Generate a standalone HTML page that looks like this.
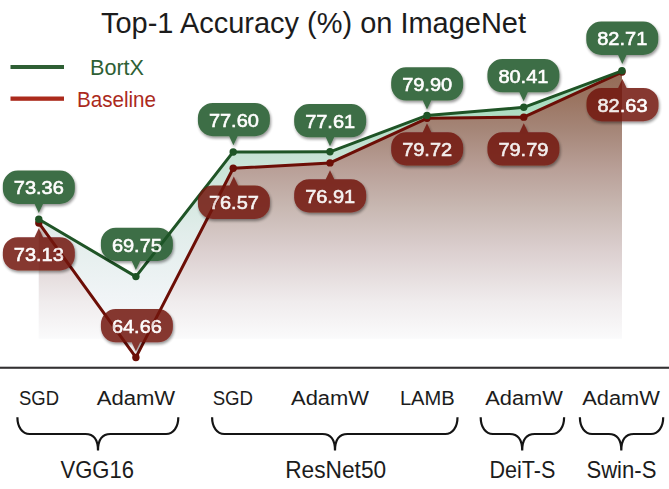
<!DOCTYPE html><html><head><meta charset="utf-8"><style>
html,body{margin:0;padding:0;background:#fff;}body{width:669px;height:489px;overflow:hidden;}
svg{display:block;font-family:"Liberation Sans",sans-serif;}
</style></head><body>
<svg width="669" height="489" viewBox="0 0 669 489">
<defs>
<linearGradient id="gg" gradientUnits="userSpaceOnUse" x1="0" y1="71" x2="0" y2="338"><stop offset="0.000" stop-color="#a0dab9"/><stop offset="0.161" stop-color="#afdec3"/><stop offset="0.315" stop-color="#c6e2d4"/><stop offset="0.614" stop-color="#e2edeb"/><stop offset="0.839" stop-color="#f0f4f6"/><stop offset="1.000" stop-color="#f9fafc"/></linearGradient>
<linearGradient id="rg" gradientUnits="userSpaceOnUse" x1="0" y1="72" x2="0" y2="338"><stop offset="0.000" stop-color="#946a56"/><stop offset="0.105" stop-color="#9b7562"/><stop offset="0.218" stop-color="#a58678"/><stop offset="0.368" stop-color="#b9a098"/><stop offset="0.511" stop-color="#c8b8b2"/><stop offset="0.677" stop-color="#dcd0d0"/><stop offset="0.865" stop-color="#f0eced"/><stop offset="1.000" stop-color="#fafafb"/></linearGradient>
<filter id="sh" x="-20%" y="-20%" width="140%" height="160%"><feGaussianBlur in="SourceAlpha" stdDeviation="1.5"/><feOffset dx="0.5" dy="2" result="o"/><feComponentTransfer><feFuncA type="linear" slope="0.5"/></feComponentTransfer><feMerge><feMergeNode/><feMergeNode in="SourceGraphic"/></feMerge></filter>
</defs>
<text x="101" y="33" font-size="29" fill="#1c1c1c" textLength="425" lengthAdjust="spacingAndGlyphs">Top-1 Accuracy (%) on ImageNet</text>
<rect x="10.5" y="65" width="53.5" height="4" fill="#2e5f34"/>
<rect x="10.5" y="96.5" width="53.5" height="4.3" fill="#ab2a1c"/>
<text x="90" y="75" font-size="22.3" fill="#2e5f34" textLength="54" lengthAdjust="spacingAndGlyphs">BortX</text>
<text x="77" y="106.5" font-size="22.3" fill="#ab2a1c" textLength="79" lengthAdjust="spacingAndGlyphs">Baseline</text>
<polygon points="38.80,219.28 135.90,276.60 233.20,151.95 330.00,151.79 427.00,115.42 523.80,107.32 622.00,70.80 622.00,338.5 38.80,338.5" fill="url(#gg)"/>
<polygon points="38.80,222.93 135.90,357.43 233.20,168.30 330.00,162.90 427.00,118.28 523.80,117.17 622.00,72.07 622.00,338.5 38.80,338.5" fill="url(#rg)"/>
<rect x="0" y="366.70" width="669" height="2.1" fill="#333132"/>
<polyline points="38.80,222.93 135.90,357.43 233.20,168.30 330.00,162.90 427.00,118.28 523.80,117.17 622.00,72.07" fill="none" stroke="#6c0e06" stroke-width="3" stroke-linejoin="round"/>
<circle cx="38.8" cy="222.93" r="3.7" fill="#6c0e06"/>
<circle cx="135.9" cy="357.43" r="3.7" fill="#6c0e06"/>
<circle cx="233.2" cy="168.30" r="3.7" fill="#6c0e06"/>
<circle cx="330.0" cy="162.90" r="3.7" fill="#6c0e06"/>
<circle cx="427.0" cy="118.28" r="3.7" fill="#6c0e06"/>
<circle cx="523.8" cy="117.17" r="3.7" fill="#6c0e06"/>
<circle cx="622.0" cy="72.07" r="3.7" fill="#6c0e06"/>
<polyline points="38.80,219.28 135.90,276.60 233.20,151.95 330.00,151.79 427.00,115.42 523.80,107.32 622.00,70.80" fill="none" stroke="#1f5426" stroke-width="3" stroke-linejoin="round"/>
<circle cx="38.8" cy="219.28" r="3.7" fill="#1f5426"/>
<circle cx="135.9" cy="276.60" r="3.7" fill="#1f5426"/>
<circle cx="233.2" cy="151.95" r="3.7" fill="#1f5426"/>
<circle cx="330.0" cy="151.79" r="3.7" fill="#1f5426"/>
<circle cx="427.0" cy="115.42" r="3.7" fill="#1f5426"/>
<circle cx="523.8" cy="107.32" r="3.7" fill="#1f5426"/>
<circle cx="622.0" cy="70.80" r="3.7" fill="#1f5426"/>
<g filter="url(#sh)" opacity="0.85"><path d="M17.85,237.20 L34.55,237.20 L38.80,228.20 L43.05,237.20 L59.85,237.20 A15,15 0 0 1 74.85,252.20 L74.85,255.50 A15,15 0 0 1 59.85,270.50 L17.85,270.50 A15,15 0 0 1 2.85,255.50 L2.85,252.20 A15,15 0 0 1 17.85,237.20Z" fill="#72140c"/><text x="38.85" y="261.05" font-size="18.8" fill="#fff" stroke="#fff" stroke-width="0.6" text-anchor="middle" textLength="50" lengthAdjust="spacingAndGlyphs">73.13</text></g>
<g filter="url(#sh)" opacity="0.85"><path d="M115.90,309.00 L157.90,309.00 A15,15 0 0 1 172.90,324.00 L172.90,327.30 A15,15 0 0 1 157.90,342.30 L140.15,342.30 L135.90,351.30 L131.65,342.30 L115.90,342.30 A15,15 0 0 1 100.90,327.30 L100.90,324.00 A15,15 0 0 1 115.90,309.00Z" fill="#72140c"/><text x="136.90" y="332.85" font-size="18.8" fill="#fff" stroke="#fff" stroke-width="0.6" text-anchor="middle" textLength="50" lengthAdjust="spacingAndGlyphs">64.66</text></g>
<g filter="url(#sh)" opacity="0.85"><path d="M212.90,185.60 L229.55,185.60 L233.80,176.60 L238.05,185.60 L254.90,185.60 A15,15 0 0 1 269.90,200.60 L269.90,203.90 A15,15 0 0 1 254.90,218.90 L212.90,218.90 A15,15 0 0 1 197.90,203.90 L197.90,200.60 A15,15 0 0 1 212.90,185.60Z" fill="#72140c"/><text x="233.90" y="209.45" font-size="18.8" fill="#fff" stroke="#fff" stroke-width="0.6" text-anchor="middle" textLength="50" lengthAdjust="spacingAndGlyphs">76.57</text></g>
<g filter="url(#sh)" opacity="0.85"><path d="M309.15,179.20 L325.75,179.20 L330.00,170.20 L334.25,179.20 L351.15,179.20 A15,15 0 0 1 366.15,194.20 L366.15,197.50 A15,15 0 0 1 351.15,212.50 L309.15,212.50 A15,15 0 0 1 294.15,197.50 L294.15,194.20 A15,15 0 0 1 309.15,179.20Z" fill="#72140c"/><text x="330.15" y="203.05" font-size="18.8" fill="#fff" stroke="#fff" stroke-width="0.6" text-anchor="middle" textLength="50" lengthAdjust="spacingAndGlyphs">76.91</text></g>
<g filter="url(#sh)" opacity="0.85"><path d="M406.15,132.20 L422.75,132.20 L427.00,123.20 L431.25,132.20 L448.15,132.20 A15,15 0 0 1 463.15,147.20 L463.15,150.50 A15,15 0 0 1 448.15,165.50 L406.15,165.50 A15,15 0 0 1 391.15,150.50 L391.15,147.20 A15,15 0 0 1 406.15,132.20Z" fill="#72140c"/><text x="427.15" y="156.05" font-size="18.8" fill="#fff" stroke="#fff" stroke-width="0.6" text-anchor="middle" textLength="50" lengthAdjust="spacingAndGlyphs">79.72</text></g>
<g filter="url(#sh)" opacity="0.85"><path d="M502.40,132.30 L519.55,132.30 L523.80,123.30 L528.05,132.30 L544.40,132.30 A15,15 0 0 1 559.40,147.30 L559.40,150.60 A15,15 0 0 1 544.40,165.60 L502.40,165.60 A15,15 0 0 1 487.40,150.60 L487.40,147.30 A15,15 0 0 1 502.40,132.30Z" fill="#72140c"/><text x="523.40" y="156.15" font-size="18.8" fill="#fff" stroke="#fff" stroke-width="0.6" text-anchor="middle" textLength="50" lengthAdjust="spacingAndGlyphs">79.79</text></g>
<g filter="url(#sh)" opacity="0.85"><path d="M601.50,87.90 L618.15,87.90 L622.40,78.90 L626.65,87.90 L643.50,87.90 A15,15 0 0 1 658.50,102.90 L658.50,106.20 A15,15 0 0 1 643.50,121.20 L601.50,121.20 A15,15 0 0 1 586.50,106.20 L586.50,102.90 A15,15 0 0 1 601.50,87.90Z" fill="#72140c"/><text x="622.50" y="111.75" font-size="18.8" fill="#fff" stroke="#fff" stroke-width="0.6" text-anchor="middle" textLength="50" lengthAdjust="spacingAndGlyphs">82.63</text></g>
<g filter="url(#sh)" opacity="0.85"><path d="M17.85,170.60 L59.85,170.60 A15,15 0 0 1 74.85,185.60 L74.85,188.90 A15,15 0 0 1 59.85,203.90 L43.05,203.90 L38.80,212.90 L34.55,203.90 L17.85,203.90 A15,15 0 0 1 2.85,188.90 L2.85,185.60 A15,15 0 0 1 17.85,170.60Z" fill="#1f5426"/><text x="38.85" y="194.45" font-size="18.8" fill="#fff" stroke="#fff" stroke-width="0.6" text-anchor="middle" textLength="50" lengthAdjust="spacingAndGlyphs">73.36</text></g>
<g filter="url(#sh)" opacity="0.85"><path d="M115.90,227.70 L157.90,227.70 A15,15 0 0 1 172.90,242.70 L172.90,246.00 A15,15 0 0 1 157.90,261.00 L140.15,261.00 L135.90,270.00 L131.65,261.00 L115.90,261.00 A15,15 0 0 1 100.90,246.00 L100.90,242.70 A15,15 0 0 1 115.90,227.70Z" fill="#1f5426"/><text x="136.90" y="251.55" font-size="18.8" fill="#fff" stroke="#fff" stroke-width="0.6" text-anchor="middle" textLength="50" lengthAdjust="spacingAndGlyphs">69.75</text></g>
<g filter="url(#sh)" opacity="0.85"><path d="M212.90,102.90 L254.90,102.90 A15,15 0 0 1 269.90,117.90 L269.90,121.20 A15,15 0 0 1 254.90,136.20 L237.65,136.20 L233.40,145.20 L229.15,136.20 L212.90,136.20 A15,15 0 0 1 197.90,121.20 L197.90,117.90 A15,15 0 0 1 212.90,102.90Z" fill="#1f5426"/><text x="233.90" y="126.75" font-size="18.8" fill="#fff" stroke="#fff" stroke-width="0.6" text-anchor="middle" textLength="50" lengthAdjust="spacingAndGlyphs">77.60</text></g>
<g filter="url(#sh)" opacity="0.85"><path d="M309.15,104.00 L351.15,104.00 A15,15 0 0 1 366.15,119.00 L366.15,122.30 A15,15 0 0 1 351.15,137.30 L334.25,137.30 L330.00,146.30 L325.75,137.30 L309.15,137.30 A15,15 0 0 1 294.15,122.30 L294.15,119.00 A15,15 0 0 1 309.15,104.00Z" fill="#1f5426"/><text x="330.15" y="127.85" font-size="18.8" fill="#fff" stroke="#fff" stroke-width="0.6" text-anchor="middle" textLength="50" lengthAdjust="spacingAndGlyphs">77.61</text></g>
<g filter="url(#sh)" opacity="0.85"><path d="M406.15,67.30 L448.15,67.30 A15,15 0 0 1 463.15,82.30 L463.15,85.60 A15,15 0 0 1 448.15,100.60 L431.25,100.60 L427.00,109.60 L422.75,100.60 L406.15,100.60 A15,15 0 0 1 391.15,85.60 L391.15,82.30 A15,15 0 0 1 406.15,67.30Z" fill="#1f5426"/><text x="427.15" y="91.15" font-size="18.8" fill="#fff" stroke="#fff" stroke-width="0.6" text-anchor="middle" textLength="50" lengthAdjust="spacingAndGlyphs">79.90</text></g>
<g filter="url(#sh)" opacity="0.85"><path d="M502.40,59.00 L544.40,59.00 A15,15 0 0 1 559.40,74.00 L559.40,77.30 A15,15 0 0 1 544.40,92.30 L527.85,92.30 L523.60,101.30 L519.35,92.30 L502.40,92.30 A15,15 0 0 1 487.40,77.30 L487.40,74.00 A15,15 0 0 1 502.40,59.00Z" fill="#1f5426"/><text x="523.40" y="82.85" font-size="18.8" fill="#fff" stroke="#fff" stroke-width="0.6" text-anchor="middle" textLength="50" lengthAdjust="spacingAndGlyphs">80.41</text></g>
<g filter="url(#sh)" opacity="0.85"><path d="M601.25,21.60 L643.25,21.60 A15,15 0 0 1 658.25,36.60 L658.25,39.90 A15,15 0 0 1 643.25,54.90 L626.55,54.90 L622.30,63.90 L618.05,54.90 L601.25,54.90 A15,15 0 0 1 586.25,39.90 L586.25,36.60 A15,15 0 0 1 601.25,21.60Z" fill="#1f5426"/><text x="622.25" y="45.45" font-size="18.8" fill="#fff" stroke="#fff" stroke-width="0.6" text-anchor="middle" textLength="50" lengthAdjust="spacingAndGlyphs">82.71</text></g>
<text x="19" y="405.4" font-size="19.5" fill="#1c1c1c" textLength="40.0" lengthAdjust="spacingAndGlyphs">SGD</text>
<text x="96.7" y="405.4" font-size="19.5" fill="#1c1c1c" textLength="78.5" lengthAdjust="spacingAndGlyphs">AdamW</text>
<text x="212.7" y="405.4" font-size="19.5" fill="#1c1c1c" textLength="40.4" lengthAdjust="spacingAndGlyphs">SGD</text>
<text x="291" y="405.4" font-size="19.5" fill="#1c1c1c" textLength="78.0" lengthAdjust="spacingAndGlyphs">AdamW</text>
<text x="399.9" y="405.4" font-size="19.5" fill="#1c1c1c" textLength="54.8" lengthAdjust="spacingAndGlyphs">LAMB</text>
<text x="485.2" y="405.4" font-size="19.5" fill="#1c1c1c" textLength="77.7" lengthAdjust="spacingAndGlyphs">AdamW</text>
<text x="582.2" y="405.4" font-size="19.5" fill="#1c1c1c" textLength="77.7" lengthAdjust="spacingAndGlyphs">AdamW</text>
<text x="60.5" y="477.7" font-size="24" fill="#1c1c1c" textLength="73.5" lengthAdjust="spacingAndGlyphs">VGG16</text>
<text x="285.2" y="477.7" font-size="24" fill="#1c1c1c" textLength="101.0" lengthAdjust="spacingAndGlyphs">ResNet50</text>
<text x="489.4" y="477.7" font-size="24" fill="#1c1c1c" textLength="65.9" lengthAdjust="spacingAndGlyphs">DeiT-S</text>
<text x="586.4" y="477.7" font-size="24" fill="#1c1c1c" textLength="70.0" lengthAdjust="spacingAndGlyphs">Swin-S</text>
<path d="M17.4,417.2 C17.4,427.2 22.4,434.0 29.599999999999998,434.0 L85.5,434.0 C94,434.0 98,440.0 98,450.5 M178.3,417.2 C178.3,427.2 173.3,434.0 166.10000000000002,434.0 L110.5,434.0 C102,434.0 98,440.0 98,450.5" fill="none" stroke="#141414" stroke-width="2.2"/>
<path d="M212.1,417.2 C212.1,427.2 217.1,434.0 224.29999999999998,434.0 L322.5,434.0 C331,434.0 335,440.0 335,450.5 M457.5,417.2 C457.5,427.2 452.5,434.0 445.3,434.0 L347.5,434.0 C339,434.0 335,440.0 335,450.5" fill="none" stroke="#141414" stroke-width="2.2"/>
<path d="M480.7,417.2 C480.7,427.2 485.7,434.0 492.9,434.0 L509.70000000000005,434.0 C518.2,434.0 522.2,440.0 522.2,450.5 M564.1,417.2 C564.1,427.2 559.1,434.0 551.9,434.0 L534.7,434.0 C526.2,434.0 522.2,440.0 522.2,450.5" fill="none" stroke="#141414" stroke-width="2.2"/>
<path d="M579.9,417.2 C579.9,427.2 584.9,434.0 592.1,434.0 L608.8,434.0 C617.3,434.0 621.3,440.0 621.3,450.5 M663.2,417.2 C663.2,427.2 658.2,434.0 651.0,434.0 L633.8,434.0 C625.3,434.0 621.3,440.0 621.3,450.5" fill="none" stroke="#141414" stroke-width="2.2"/>
</svg></body></html>
